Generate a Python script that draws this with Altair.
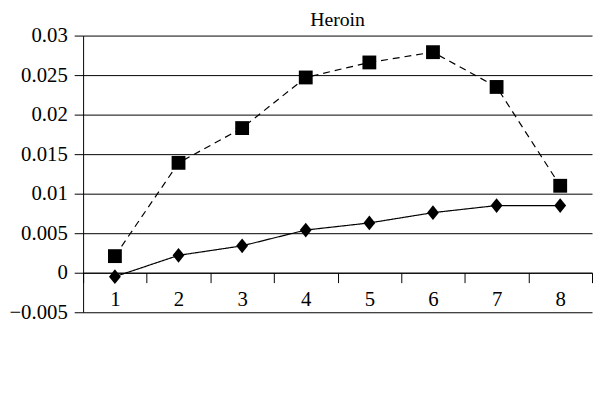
import altair as alt
import pandas as pd

categories = ["1", "2", "3", "4", "5", "6", "7", "8"]
experimental = [-0.0005, 0.0022, 0.0034, 0.0054, 0.0063, 0.0076, 0.0085, 0.0085]
control = [0.0021, 0.0139, 0.0183, 0.0247, 0.0266, 0.0279, 0.0235, 0.0110]
series_names = ["Experimental", "Control"]
y_ticks = [-0.005, 0, 0.005, 0.01, 0.015, 0.02, 0.025, 0.03]

rows = []
for c, e, k in zip(categories, experimental, control):
    rows.append({"x": c, "series": "Experimental", "value": e})
    rows.append({"x": c, "series": "Control", "value": k})
df = pd.DataFrame(rows)

FONT = "Liberation Serif"
FS = 20
TFS = 21

DIAMOND = "M0,-1L0.8,0L0,1L-0.8,0Z"
LEG_EXP = "M-1.0,0H3.4M1.19,-0.9L1.99,0L1.19,0.9L0.39,0Z"
LEG_CTRL = "M-1.0,0H-0.15M2.6,0H3.4M0.47,-0.72H1.91V0.72H0.47Z"

x_enc = alt.X(
    "x:O",
    sort=categories,
    scale=alt.Scale(type="band", paddingInner=0, paddingOuter=0),
    axis=alt.Axis(
        title=None, labelAngle=0, tickBand="extent", grid=False,
        domainColor="black", tickColor="black", tickSize=10, tickWidth=1,
        labelFont=FONT, labelFontSize=TFS, labelColor="black", labelPadding=6,
        offset=-40,
    ),
)
y_enc = alt.Y(
    "value:Q",
    scale=alt.Scale(domain=[-0.005, 0.03], nice=False, zero=False),
    axis=alt.Axis(
        title=None, values=y_ticks, format="~f", grid=True,
        gridColor="black", gridOpacity=1, gridWidth=1,
        domainColor="black", tickColor="black", tickSize=9,
        labelFont=FONT, labelFontSize=TFS, labelColor="black", labelPadding=7,
    ),
)

legend = alt.Legend(
    title=None, orient="bottom", direction="vertical", offset=27,
    labelFont=FONT, labelFontSize=FS, labelColor="black", labelOffset=33,
    symbolSize=256, rowPadding=2, padding=0, symbolOffset=0,
    symbolFillColor="black", symbolStrokeColor="black", symbolStrokeWidth=1.2,
    symbolOpacity=1,
)

base = alt.Chart(df)

lines = base.mark_line(color="black", strokeWidth=1.2).encode(
    x=x_enc,
    y=y_enc,
    strokeDash=alt.StrokeDash(
        "series:N",
        scale=alt.Scale(domain=series_names, range=[[1, 0], [7, 5]]),
        legend=None,
    ),
)

pts_exp = base.transform_filter(alt.datum.series == "Experimental").mark_point(
    filled=True, color="black", opacity=1, shape=DIAMOND, size=225
).encode(x=x_enc, y=y_enc)

pts_ctrl = base.transform_filter(alt.datum.series == "Control").mark_point(
    filled=True, color="black", opacity=1, shape="square", size=196
).encode(x=x_enc, y=y_enc)

legend_layer = base.mark_point(filled=True, color="black", opacity=0).encode(
    x=x_enc,
    y=y_enc,
    shape=alt.Shape("series:N", scale=alt.Scale(domain=series_names, range=[LEG_EXP, LEG_CTRL]), legend=legend),
)

chart = alt.layer(lines, pts_exp, pts_ctrl, legend_layer).properties(
    width=515,
    height=280,
    padding={"left": 0, "top": 0, "right": 0, "bottom": 2},
    title=alt.TitleParams("Heroin", font=FONT, fontSize=FS, fontWeight="normal", color="black", offset=-5, anchor="middle"),
).configure_view(stroke=None)

chart.save("out.html", embed_options={"renderer": "svg", "actions": False})
